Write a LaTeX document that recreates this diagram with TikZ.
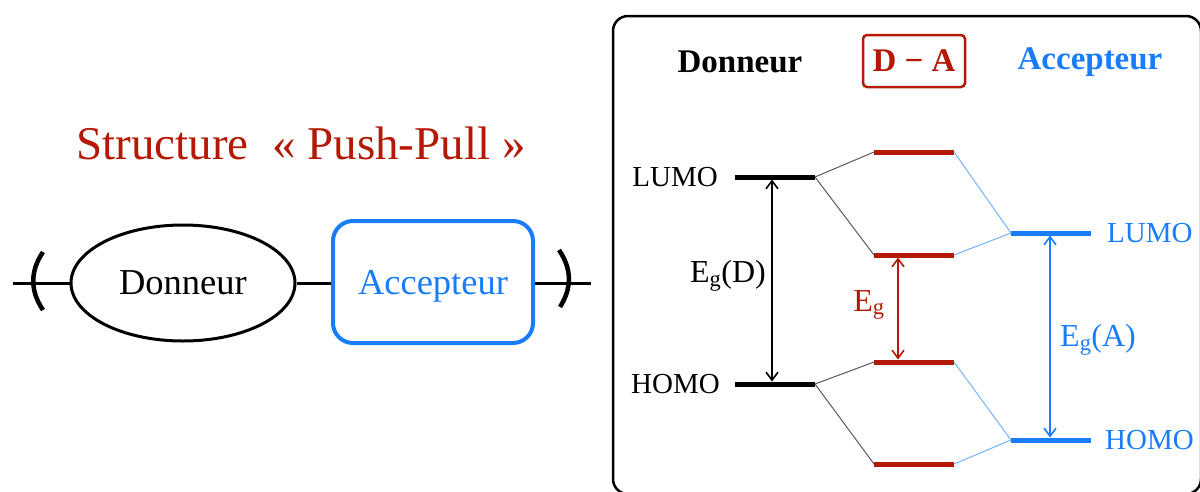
\documentclass[tikz,border=0pt]{standalone}
\usepackage{fontspec}
\setmainfont{Liberation Serif}
\usetikzlibrary{positioning, shapes.geometric, arrows.meta}
\definecolor{dared}{RGB}{180,25,5}
\definecolor{acblue}{RGB}{25,125,250}
\newcommand{\fsz}[1]{\fontsize{#1}{#1}\selectfont}

\begin{document}
\begin{tikzpicture}[x=1pt, y=-1pt,
		level/.style = {minimum width=80pt, minimum height=5pt, inner sep=0pt, outer sep=0pt},
		lbl/.style = {inner sep=0pt, font=\fsz{29}},
		head/.style = {inner sep=0pt, font=\fsz{33}\bfseries},
		link/.style = {line width=1pt, black!65},
		blink/.style = {line width=1pt, acblue!60},
		gap/.style = {{Straight Barb[length=8pt, width=12pt]}-{Straight Barb[length=8pt, width=12pt]}, line width=1.6pt}]
	\useasboundingbox (0,0) rectangle (1200,491);
	\clip (0,0) rectangle (1200,491);
	% left part: push-pull structure
	\node[text=dared, font=\fsz{47}, inner sep=0pt] (title) at (301,143) {Structure\ \ « Push-Pull »};
	\node[draw, ellipse, line width=3pt, minimum width=224pt, minimum height=116pt, font=\fsz{36.5}] (don) at (183,283) {Donneur};
	\node[draw=acblue, line width=4pt, rounded corners=20pt, minimum width=200pt, minimum height=122pt, text=acblue, text depth=0pt, font=\fsz{36.5}] (acc) at (433,282) {Accepteur};
	\coordinate (l0) at (13,283);
	\coordinate (r0) at (591,283);
	\draw[line width=3pt] (l0) -- (don.west);
	\draw[line width=3pt] (don.east) -- (acc.west |- don.east);
	\draw[line width=3pt] (acc.east |- don.east) -- (r0);
	\draw[line width=4.5pt] (43,252) .. controls (30,271) and (30,291) .. (43,310);
	\draw[line width=4.5pt] (559,250) .. controls (572,269) and (572,288) .. (560,307);
	% right part: energy levels
	\draw[line width=2.5pt, rounded corners=15pt] (613,16) rectangle (1201,494);
	\node[head] (hd) at (740,62) {Donneur};
	\node[head, draw=dared, line width=2.5pt, rounded corners=4pt, text=dared, minimum width=102pt, minimum height=52pt] (hda) at (914,61) {D − A};
	\node[head, text=acblue] (ha) at (1090,62) {Accepteur};
	\node[level, fill=black] (dL) at (775,177) {};
	\node[level, fill=black] (dH) at (775,384) {};
	\node[level, fill=dared] (m1) at (914,152) {};
	\node[level, fill=dared] (m2) at (914,255) {};
	\node[level, fill=dared] (m3) at (914,362) {};
	\node[level, fill=dared] (m4) at (914,464) {};
	\node[level, fill=acblue] (aL) at (1051,233) {};
	\node[level, fill=acblue] (aH) at (1051,440) {};
	\node[lbl, left=17pt of dL] {LUMO};
	\node[lbl, left=15pt of dH] {HOMO};
	\node[lbl, text=acblue, right=16pt of aL] {LUMO};
	\node[lbl, text=acblue, right=14pt of aH] {HOMO};
	\draw[link] (dL.east) -- (m1.west);
	\draw[link] (dL.east) -- (m2.west);
	\draw[link] (dH.east) -- (m3.west);
	\draw[link] (dH.east) -- (m4.west);
	\draw[blink] (m1.east) -- (aL.west);
	\draw[blink] (m2.east) -- (aL.west);
	\draw[blink] (m3.east) -- (aH.west);
	\draw[blink] (m4.east) -- (aH.west);
	\draw[gap] ([xshift=-3pt]dL.south) -- ([xshift=-3pt]dH.north);
	\draw[gap, dared] ([xshift=-16pt]m2.south) -- ([xshift=-16pt]m3.north);
	\draw[gap, acblue] ([xshift=-1pt]aL.south) -- ([xshift=-1pt]aH.north);
	\node[lbl, anchor=east, font=\fsz{32}] (egd) at (766,276) {E\textsubscript{g}(D)};
	\node[lbl, text=dared, font=\fsz{32}] (eg) at (869,305) {E\textsubscript{g}};
	\node[lbl, anchor=west, text=acblue, font=\fsz{32}] (ega) at (1060,340) {E\textsubscript{g}(A)};
\end{tikzpicture}
\end{document}
